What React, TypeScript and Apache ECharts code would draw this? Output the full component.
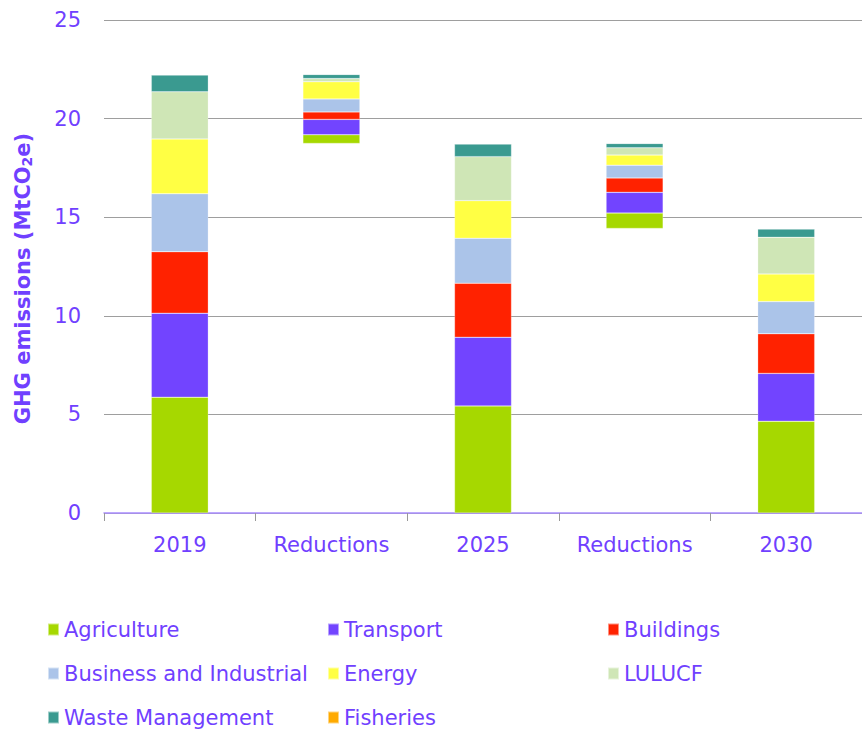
import React, { useEffect, useRef } from "react";
import * as echarts from "echarts";

const categories = ["2019", "Reductions", "2025", "Reductions", "2030"];
const sectors = [
  "Agriculture",
  "Transport",
  "Buildings",
  "Business and Industrial",
  "Energy",
  "LULUCF",
  "Waste Management",
  "Fisheries",
];
const sectorColors = [
  "#a6d800",
  "#7244ff",
  "#ff2200",
  "#abc4e9",
  "#ffff44",
  "#cfe6b6",
  "#3a9a90",
  "#ffaa00",
];
const values2019 = [5.87, 4.26, 3.12, 2.94, 2.78, 2.39, 0.85, 0.03];
const values2025 = [5.43, 3.48, 2.74, 2.28, 1.91, 2.23, 0.64, 0.03];
const values2030 = [4.65, 2.43, 2.01, 1.63, 1.4, 1.86, 0.42, 0.03];
const yTicks = [0, 5, 10, 15, 20, 25];

const legendColumns = [
  ["Agriculture", "Business and Industrial", "Waste Management"],
  ["Transport", "Energy", "Fisheries"],
  ["Buildings", "LULUCF"],
];

const TEXT = "#7040ff";
const FONT = "DejaVu Sans";

const sum = (a: number[]) => a.reduce((s, v) => s + v, 0);

export default function App() {
  const ref = useRef<HTMLDivElement>(null);
  useEffect(() => {
    if (!ref.current) return;
    const chart = echarts.init(ref.current, null, { renderer: "svg" });
    const base = [0, sum(values2025), 0, sum(values2030), 0];
    const sectorSeries = sectors.map((name, i) => ({
      name,
      type: "bar",
      stack: "total",
      barWidth: 57,
      itemStyle: { color: sectorColors[i], borderColor: "rgba(255,255,255,0.5)", borderWidth: 0.5 },
      data: [
        values2019[i],
        Math.max(0, values2019[i] - values2025[i]),
        values2025[i],
        Math.max(0, values2025[i] - values2030[i]),
        values2030[i],
      ],
    }));
    chart.setOption({
      animation: false,
      backgroundColor: "#ffffff",
      grid: { left: 104, right: 0, top: 20, bottom: 222, containLabel: false },
      legend: legendColumns.map((col, c) => ({
        data: col,
        left: 47 + c * 280,
        top: 617,
        height: 140,
        padding: 0,
        orient: "vertical",
        icon: "rect",
        itemWidth: 11,
        itemHeight: 12,
        itemGap: 19,
        selectedMode: false,
        textStyle: {
          color: TEXT,
          fontFamily: FONT,
          fontSize: 21,
          lineHeight: 25,
        },
      })),
      xAxis: {
        type: "category",
        data: categories,
        axisLine: { lineStyle: { color: "#a98cff", width: 1.5 } },
        axisTick: { show: true, length: 8, lineStyle: { color: "#999999" } },
        axisLabel: { color: TEXT, fontFamily: FONT, fontSize: 21, margin: 21 },
      },
      yAxis: {
        type: "value",
        min: yTicks[0],
        max: yTicks[yTicks.length - 1],
        interval: 5,
        axisLine: { show: false },
        axisTick: { show: false },
        axisLabel: { color: TEXT, fontFamily: FONT, fontSize: 21, margin: 23 },
        splitLine: { lineStyle: { color: "#9e9e9e", width: 1.2 } },
        name: "GHG emissions (MtCO{sub|2}e)",
        nameLocation: "middle",
        nameGap: 70,
        nameRotate: 90,
        nameTextStyle: {
          color: TEXT,
          fontFamily: FONT,
          fontSize: 21,
          fontWeight: "bold",
          padding: [0, 24, 0, 0],
          rich: {
            sub: {
              color: TEXT,
              fontFamily: FONT,
              fontSize: 14,
              fontWeight: "bold",
              verticalAlign: "bottom",
              padding: [8, 0, 0, 0],
            },
          },
        },
      },
      series: [
        {
          name: "base",
          type: "bar",
          stack: "total",
          barWidth: 57,
          silent: true,
          itemStyle: { color: "transparent" },
          data: base,
        },
        ...sectorSeries,
      ],
    });
    return () => chart.dispose();
  }, []);
  return (
    <div
      ref={ref}
      style={{ position: "fixed", left: 0, top: 0, width: 862, height: 735 }}
    />
  );
}
